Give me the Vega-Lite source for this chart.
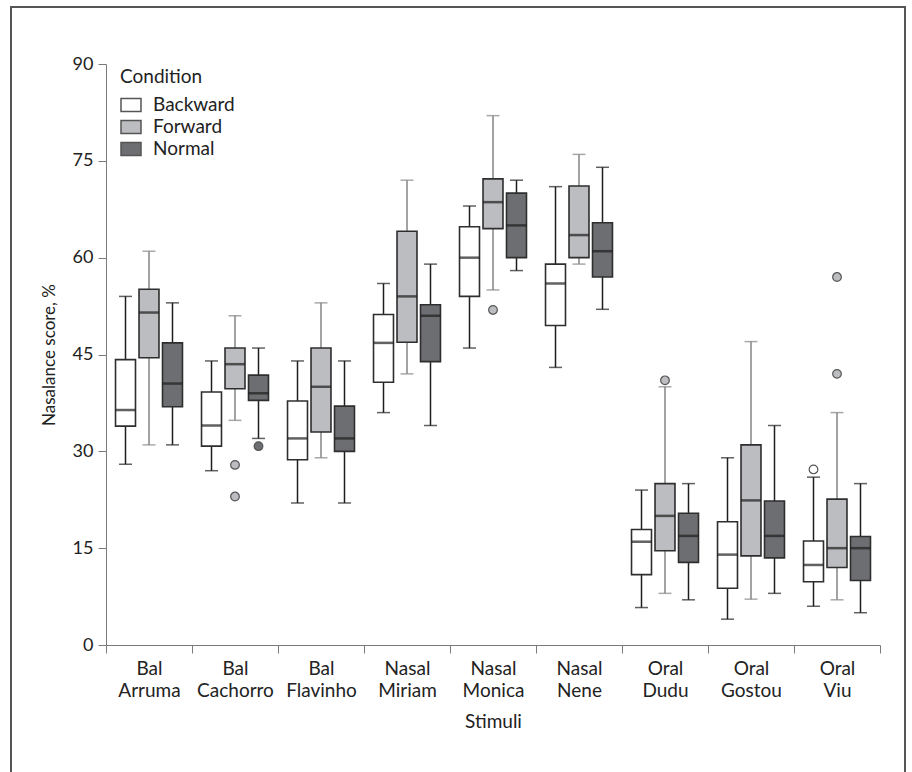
{
  "$schema": "https://vega.github.io/schema/vega-lite/v6.json",
  "width": 894,
  "height": 790,
  "autosize": "none",
  "padding": {"left": 11, "top": 7, "right": 7, "bottom": 0},
  "background": "white",
  "config": {
    "font": "Lato",
    "view": {"stroke": "#555555", "strokeWidth": 2},
    "axis": {"domainColor": "#7a7a7a", "tickColor": "#7a7a7a", "labelColor": "#222222", "titleColor": "#222222", "labelFont": "Lato", "titleFont": "Lato", "titleFontWeight": "normal", "grid": false}
  },
  "datasets": {
    "boxes": [
      {"stim": "Bal Arruma", "cond": "Backward", "min": 28, "q1": 33.9, "med": 36.4, "q3": 44.2, "max": 54},
      {"stim": "Bal Arruma", "cond": "Forward", "min": 31, "q1": 44.5, "med": 51.5, "q3": 55.1, "max": 61},
      {"stim": "Bal Arruma", "cond": "Normal", "min": 31, "q1": 36.9, "med": 40.5, "q3": 46.8, "max": 53},
      {"stim": "Bal Cachorro", "cond": "Backward", "min": 27, "q1": 30.8, "med": 34, "q3": 39.2, "max": 44},
      {"stim": "Bal Cachorro", "cond": "Forward", "min": 34.8, "q1": 39.7, "med": 43.5, "q3": 46, "max": 51},
      {"stim": "Bal Cachorro", "cond": "Normal", "min": 32, "q1": 37.9, "med": 39, "q3": 41.8, "max": 46},
      {"stim": "Bal Flavinho", "cond": "Backward", "min": 22, "q1": 28.7, "med": 32, "q3": 37.8, "max": 44},
      {"stim": "Bal Flavinho", "cond": "Forward", "min": 29, "q1": 33, "med": 40, "q3": 46, "max": 53},
      {"stim": "Bal Flavinho", "cond": "Normal", "min": 22, "q1": 30, "med": 32, "q3": 37, "max": 44},
      {"stim": "Nasal Miriam", "cond": "Backward", "min": 36, "q1": 40.7, "med": 46.8, "q3": 51.2, "max": 56},
      {"stim": "Nasal Miriam", "cond": "Forward", "min": 42, "q1": 46.9, "med": 54, "q3": 64.1, "max": 72},
      {"stim": "Nasal Miriam", "cond": "Normal", "min": 34, "q1": 43.9, "med": 51, "q3": 52.7, "max": 59},
      {"stim": "Nasal Monica", "cond": "Backward", "min": 46, "q1": 54, "med": 60, "q3": 64.8, "max": 68},
      {"stim": "Nasal Monica", "cond": "Forward", "min": 55, "q1": 64.5, "med": 68.6, "q3": 72.2, "max": 82},
      {"stim": "Nasal Monica", "cond": "Normal", "min": 58, "q1": 60, "med": 65, "q3": 70, "max": 72},
      {"stim": "Nasal Nene", "cond": "Backward", "min": 43, "q1": 49.5, "med": 56, "q3": 59, "max": 71},
      {"stim": "Nasal Nene", "cond": "Forward", "min": 59, "q1": 60, "med": 63.5, "q3": 71.1, "max": 76},
      {"stim": "Nasal Nene", "cond": "Normal", "min": 52, "q1": 57, "med": 61, "q3": 65.4, "max": 74},
      {"stim": "Oral Dudu", "cond": "Backward", "min": 5.8, "q1": 10.9, "med": 16, "q3": 17.9, "max": 24},
      {"stim": "Oral Dudu", "cond": "Forward", "min": 8, "q1": 14.6, "med": 20, "q3": 25, "max": 40},
      {"stim": "Oral Dudu", "cond": "Normal", "min": 7, "q1": 12.8, "med": 16.9, "q3": 20.4, "max": 25},
      {"stim": "Oral Gostou", "cond": "Backward", "min": 4, "q1": 8.8, "med": 14, "q3": 19.1, "max": 29},
      {"stim": "Oral Gostou", "cond": "Forward", "min": 7.1, "q1": 13.8, "med": 22.4, "q3": 31, "max": 47},
      {"stim": "Oral Gostou", "cond": "Normal", "min": 8, "q1": 13.5, "med": 16.9, "q3": 22.3, "max": 34},
      {"stim": "Oral Viu", "cond": "Backward", "min": 6, "q1": 9.8, "med": 12.4, "q3": 16.1, "max": 26},
      {"stim": "Oral Viu", "cond": "Forward", "min": 7, "q1": 12, "med": 15, "q3": 22.6, "max": 36},
      {"stim": "Oral Viu", "cond": "Normal", "min": 5, "q1": 10, "med": 15, "q3": 16.8, "max": 25}
    ],
    "outliers": [
      {"stim": "Bal Cachorro", "cond": "Forward", "value": 27.9},
      {"stim": "Bal Cachorro", "cond": "Forward", "value": 23},
      {"stim": "Bal Cachorro", "cond": "Normal", "value": 30.8},
      {"stim": "Nasal Monica", "cond": "Forward", "value": 51.9},
      {"stim": "Oral Dudu", "cond": "Forward", "value": 41},
      {"stim": "Oral Viu", "cond": "Backward", "value": 27.2},
      {"stim": "Oral Viu", "cond": "Forward", "value": 57},
      {"stim": "Oral Viu", "cond": "Forward", "value": 42}
    ]
  },
  "encoding": {
    "x": {
      "field": "stim", "type": "nominal", "title": "Stimuli",
      "scale": {"paddingInner": 0, "paddingOuter": 0, "range": [95, 869]},
      "axis": {"offset": -152, "labelAngle": 0, "labelExpr": "split(datum.label, ' ')", "labelFontSize": 19, "labelLineHeight": 22, "labelPadding": 6, "tickBand": "extent", "tickSize": 8, "titleFontSize": 19, "titlePadding": 12, "labelBaseline": "top"}
    },
    "xOffset": {"field": "cond", "type": "nominal", "scale": {"domain": ["Backward", "Forward", "Normal"], "paddingInner": 0.15, "paddingOuter": 0.405}}
  },
  "layer": [
    {
      "data": {"name": "boxes"},
      "mark": {"type": "rule", "strokeWidth": 1.5},
      "encoding": {
        "y": {"field": "min", "type": "quantitative", "title": "Nasalance score, %",
          "scale": {"domain": [0, 90], "nice": false, "range": [638, 57]},
          "axis": {"offset": -95, "values": [0, 15, 30, 45, 60, 75, 90], "tickSize": 8, "labelFontSize": 18, "labelPadding": 5, "titleFontSize": 17, "titlePadding": 14}},
        "y2": {"field": "max"},
        "stroke": {"condition": {"test": "datum.cond === 'Forward'", "value": "#858585"}, "value": "#1e1e1e"}
      }
    },
    {
      "data": {"name": "boxes"},
      "mark": {"type": "tick", "size": 13, "thickness": 1.5},
      "encoding": {
        "y": {"field": "min", "type": "quantitative"},
        "color": {"condition": {"test": "datum.cond === 'Forward'", "value": "#858585"}, "value": "#1e1e1e"}
      }
    },
    {
      "data": {"name": "boxes"},
      "mark": {"type": "tick", "size": 13, "thickness": 1.5},
      "encoding": {
        "y": {"field": "max", "type": "quantitative"},
        "color": {"condition": {"test": "datum.cond === 'Forward'", "value": "#858585"}, "value": "#1e1e1e"}
      }
    },
    {
      "data": {"name": "boxes"},
      "mark": {"type": "bar", "stroke": "#2e2e2e", "strokeWidth": 1.6},
      "encoding": {
        "y": {"field": "q1", "type": "quantitative"},
        "y2": {"field": "q3"},
        "color": {"field": "cond", "type": "nominal", "title": "Condition",
          "scale": {"domain": ["Backward", "Forward", "Normal"], "range": ["#ffffff", "#bcbdc0", "#6d6e71"]},
          "legend": {"orient": "none", "legendX": 109, "legendY": 61, "padding": 0, "titleFontSize": 19, "titleFontWeight": "normal", "titleColor": "#222222", "titlePadding": 7, "labelFontSize": 19, "labelColor": "#222222", "labelOffset": 11, "rowPadding": 1, "symbolType": "M-1,-0.65H1V0.65H-1Z", "symbolSize": 400, "symbolStrokeColor": "#333333", "symbolStrokeWidth": 1.5}}
      }
    },
    {
      "data": {"name": "boxes"},
      "mark": {"type": "tick", "size": 20, "thickness": 2.5, "color": "#1e1e1e"},
      "encoding": {
        "y": {"field": "med", "type": "quantitative"}
      }
    },
    {
      "data": {"name": "outliers"},
      "mark": {"type": "point", "filled": true, "size": 75, "stroke": "#555555", "strokeWidth": 1.2, "opacity": 1},
      "encoding": {
        "y": {"field": "value", "type": "quantitative"},
        "color": {"field": "cond", "type": "nominal", "title": "Condition"}
      }
    }
  ]
}
